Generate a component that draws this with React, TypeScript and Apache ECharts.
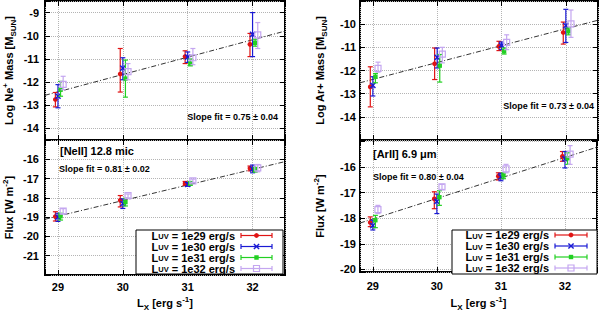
import React, { useEffect, useRef } from 'react';
import * as echarts from 'echarts';

// ---------------- data ----------------
const xTickValues = [29, 30, 31, 32];
const uvLabels = ['1e29', '1e30', '1e31', '1e32'];

const xUV29 = [28.96, 29.96, 30.96, 31.96];
const xUV30 = [29.0, 30.0, 31.0, 32.0];
const xUV31 = [29.04, 30.04, 31.04, 32.04];
const xUV32 = [29.08, 30.08, 31.08, 32.08];

// each entry: [value, low, high]
const neMassUV29 = [[-12.75, -13.07, -12.45], [-11.65, -12.43, -10.55], [-10.9, -11.2, -10.65], [-10.37, -10.9, -9.9]];
const neMassUV30 = [[-12.61, -13.11, -12.11], [-11.4, -11.9, -10.95], [-10.92, -11.15, -10.7], [-9.94, -10.9, -9.0]];
const neMassUV31 = [[-12.33, -12.61, -11.97], [-11.85, -12.65, -11.05], [-11.2, -11.3, -11.0], [-10.3, -10.45, -10.15]];
const neMassUV32 = [[-12.1, -12.33, -11.75], [-11.55, -11.9, -11.2], [-10.95, -11.25, -10.55], [-9.96, -10.55, -9.43]];

const neFluxUV29 = [[-18.97, -19.2, -18.72], [-18.13, -18.47, -17.88], [-17.25, -17.35, -17.15], [-16.47, -16.6, -16.35]];
const neFluxUV30 = [[-19.0, -19.22, -18.8], [-18.3, -18.55, -18.05], [-17.3, -17.4, -17.2], [-16.5, -16.7, -16.3]];
const neFluxUV31 = [[-18.95, -19.15, -18.8], [-18.22, -18.42, -18.02], [-17.25, -17.35, -17.15], [-16.54, -16.67, -16.42]];
const neFluxUV32 = [[-18.69, -18.82, -18.56], [-17.88, -18.0, -17.8], [-17.12, -17.2, -17.03], [-16.45, -16.65, -16.27]];

const arMassUV29 = [[-12.71, -13.57, -11.84], [-11.71, -12.39, -11.03], [-10.96, -11.14, -10.74], [-10.36, -10.86, -9.91]];
const arMassUV30 = [[-12.64, -13.1, -12.27], [-11.43, -11.89, -11.03], [-10.91, -11.1, -10.77], [-10.06, -10.79, -9.36]];
const arMassUV31 = [[-12.27, -12.53, -12.13], [-11.79, -12.5, -11.31], [-11.17, -11.29, -11.03], [-10.31, -10.46, -10.17]];
const arMassUV32 = [[-11.91, -12.07, -11.64], [-11.29, -11.67, -11.0], [-10.79, -11.1, -10.46], [-9.99, -10.57, -9.39]];

const arFluxUV29 = [[-18.17, -18.33, -17.95], [-17.25, -17.63, -16.97], [-16.36, -16.51, -16.23], [-15.59, -15.78, -15.4]];
const arFluxUV30 = [[-18.29, -18.46, -18.08], [-17.35, -17.82, -17.06], [-16.39, -16.54, -16.25], [-15.69, -16.04, -15.4]];
const arFluxUV31 = [[-18.08, -18.37, -17.89], [-17.18, -17.5, -16.93], [-16.33, -16.46, -16.23], [-15.66, -15.9, -15.45]];
const arFluxUV32 = [[-17.67, -17.82, -17.5], [-16.78, -16.88, -16.68], [-16.08, -16.23, -15.9], [-15.5, -15.9, -15.17]];

// fit line end points [x, y]
const neMassFit = [[28.8, -12.57], [32.5, -9.8]];
const neFluxFit = [[28.8, -19.11], [32.5, -16.12]];
const arMassFit = [[28.8, -12.53], [32.5, -9.83]];
const arFluxFit = [[28.8, -18.19], [32.5, -15.23]];

// tick labels
const neMassTicks = [-14, -13, -12, -11, -10, -9];
const neFluxTicks = [-21, -20, -19, -18, -17, -16];
const arMassTicks = [-14, -13, -12, -11, -10];
const arFluxTicks = [-20, -19, -18, -17, -16];

const slopeTexts = ['Slope fit = 0.75 ± 0.04', 'Slope fit = 0.81 ± 0.02', 'Slope fit = 0.73 ± 0.04', 'Slope fit = 0.80 ± 0.04'];
const lineLabels = ['[NeII] 12.8 mic', '[ArII] 6.9 μm'];

// ---------------- styles ----------------
const FONT = 'Liberation Sans, Arial, Helvetica, sans-serif';
const colors = ['#e01414', '#1a1ad4', '#22d022', '#c4a6f0'];
const markerKinds = ['circle', 'cross', 'square', 'openSquare'];
const xSets = [xUV29, xUV30, xUV31, xUV32];

const richStyles = {
  t: { fontSize: 11, fontWeight: 'bold', fontFamily: FONT, color: '#000', lineHeight: 16 },
  sup: { fontSize: 8, fontWeight: 'bold', fontFamily: FONT, color: '#000', lineHeight: 8, verticalAlign: 'top' },
  sub: { fontSize: 8, fontWeight: 'bold', fontFamily: FONT, color: '#000', lineHeight: 8, verticalAlign: 'bottom' },
};

function markerEl(kind: string, cx: number, cy: number, color: string, z?: number): any {
  const zz = z === undefined ? {} : { z };
  if (kind === 'circle') {
    return { type: 'circle', ...zz, shape: { cx, cy, r: 2.4 }, style: { fill: color } };
  }
  if (kind === 'cross') {
    const s = 2.6;
    return {
      type: 'group',
      children: [
        { type: 'line', ...zz, shape: { x1: cx - s, y1: cy - s, x2: cx + s, y2: cy + s }, style: { stroke: color, lineWidth: 1.4 } },
        { type: 'line', ...zz, shape: { x1: cx - s, y1: cy + s, x2: cx + s, y2: cy - s }, style: { stroke: color, lineWidth: 1.4 } },
      ],
    };
  }
  if (kind === 'square') {
    return { type: 'rect', ...zz, shape: { x: cx - 2.2, y: cy - 2.2, width: 4.4, height: 4.4 }, style: { fill: color } };
  }
  return { type: 'rect', ...zz, shape: { x: cx - 3, y: cy - 3, width: 6, height: 6 }, style: { fill: 'none', stroke: color, lineWidth: 1.2 } };
}

function makeRender(kind: string, color: string) {
  return (params: any, api: any) => {
    const x = api.value(0);
    const y = api.value(1);
    const c = api.coord([x, y]);
    const cl = api.coord([x, api.value(2)]);
    const ch = api.coord([x, api.value(3)]);
    const cap = 2.5;
    const ls = { stroke: color, lineWidth: 1.2 };
    return {
      type: 'group',
      children: [
        { type: 'line', shape: { x1: c[0], y1: cl[1], x2: c[0], y2: ch[1] }, style: ls },
        { type: 'line', shape: { x1: c[0] - cap, y1: cl[1], x2: c[0] + cap, y2: cl[1] }, style: ls },
        { type: 'line', shape: { x1: c[0] - cap, y1: ch[1], x2: c[0] + cap, y2: ch[1] }, style: ls },
        markerEl(kind, c[0], c[1], color),
      ],
    };
  };
}

const panels = [
  { grid: { left: 45, top: 1, width: 240, height: 139 }, yMin: -14.5, yMax: -8.5, ticks: neMassTicks, sets: [neMassUV29, neMassUV30, neMassUV31, neMassUV32], fit: neMassFit, showX: false,
    yName: '{t|Log Ne}{sup|+}{t| Mass [M}{sub|SUN}{t|]}', nameGap: 28 },
  { grid: { left: 45, top: 140, width: 240, height: 138 }, yMin: -22, yMax: -15, ticks: neFluxTicks, sets: [neFluxUV29, neFluxUV30, neFluxUV31, neFluxUV32], fit: neFluxFit, showX: true,
    yName: '{t|Flux [W m}{sup|-2}{t|]}', nameGap: 28, xGap: 20 },
  { grid: { left: 360, top: 1, width: 238, height: 139 }, yMin: -15, yMax: -9, ticks: arMassTicks, sets: [arMassUV29, arMassUV30, arMassUV31, arMassUV32], fit: arMassFit, showX: false,
    yName: '{t|Log Ar+ Mass [M}{sub|SUN}{t|]}', nameGap: 32 },
  { grid: { left: 360, top: 140, width: 238, height: 135 }, yMin: -20.1, yMax: -14.95, ticks: arFluxTicks, sets: [arFluxUV29, arFluxUV30, arFluxUV31, arFluxUV32], fit: arFluxFit, showX: true,
    yName: '{t|Flux [W m}{sup|-2}{t|]}', nameGap: 32, xGap: 23 },
];

function buildOption() {
  const grid: any[] = [];
  const xAxis: any[] = [];
  const yAxis: any[] = [];
  const series: any[] = [];
  const labelStyle = { color: '#000', fontSize: 11, fontWeight: 'bold', fontFamily: FONT };

  panels.forEach((p, i) => {
    grid.push({ ...p.grid, show: true, borderColor: '#000', borderWidth: 2, backgroundColor: '#fff', containLabel: false });
    xAxis.push({
      type: 'value', gridIndex: i, min: 28.8, max: 32.5, splitNumber: 4,
      axisLine: { show: false },
      axisTick: { show: true, inside: true, length: 5, lineStyle: { color: '#000', width: 1 } },
      axisLabel: {
        show: p.showX, margin: p.showX ? (i === 3 ? 8 : 6) : 0, ...labelStyle,
        formatter: (v: number) => (xTickValues.includes(v) ? String(v) : ''),
      },
      splitLine: { show: true, lineStyle: { color: '#b4b4b4', type: 'dotted', width: 1 } },
      name: p.showX ? '{t|L}{sub|X}{t| [erg s}{sup|-1}{t|]}' : '',
      nameLocation: 'middle', nameGap: p.xGap || 20,
      nameTextStyle: { ...labelStyle, rich: richStyles },
    });
    yAxis.push({
      type: 'value', gridIndex: i, min: p.yMin, max: p.yMax, splitNumber: Math.round(p.yMax - p.yMin),
      axisLine: { show: false },
      axisTick: { show: true, inside: true, length: 5, lineStyle: { color: '#000', width: 1 } },
      axisLabel: {
        margin: i < 2 ? 6 : 4, ...labelStyle,
        formatter: (v: number) => (p.ticks.includes(v) ? String(v) : ''),
      },
      splitLine: { show: true, lineStyle: { color: '#b4b4b4', type: 'dotted', width: 1 } },
      name: p.yName, nameLocation: 'middle', nameRotate: 90, nameGap: p.nameGap,
      nameTextStyle: { ...labelStyle, rich: richStyles },
    });
  });
  // secondary axes for ticks on top / right sides
  panels.forEach((p, i) => {
    xAxis.push({
      type: 'value', gridIndex: i, position: 'top', min: 28.8, max: 32.5, splitNumber: 4,
      axisLine: { show: false }, axisLabel: { show: false }, splitLine: { show: false },
      axisTick: { show: true, inside: true, length: 5, lineStyle: { color: '#000', width: 1 } },
    });
    yAxis.push({
      type: 'value', gridIndex: i, position: 'right', min: p.yMin, max: p.yMax, splitNumber: Math.round(p.yMax - p.yMin),
      axisLine: { show: false }, axisLabel: { show: false }, splitLine: { show: false },
      axisTick: { show: true, inside: true, length: 5, lineStyle: { color: '#000', width: 1 } },
    });
  });

  panels.forEach((p, i) => {
    series.push({
      type: 'line', xAxisIndex: i, yAxisIndex: i, data: p.fit, symbol: 'none', silent: true,
      lineStyle: { color: '#333', width: 1, type: [5, 2, 1, 2] }, z: 2,
    });
    p.sets.forEach((set, k) => {
      const xs = xSets[k];
      series.push({
        type: 'custom', name: 'L_UV = ' + uvLabels[k] + ' erg/s',
        xAxisIndex: i, yAxisIndex: i,
        dimensions: ['x', 'y', 'lo', 'hi'],
        encode: { x: 0, y: 1 },
        data: set.map((d, j) => [xs[j], d[0], d[1], d[2]]),
        renderItem: makeRender(markerKinds[k], colors[k]),
        z: 3,
      });
    });
  });

  const graphic: any[] = [];
  const txt = (x: number, y: number, text: string, align: string, size: number) => ({
    type: 'text', x, y, z: 10,
    style: { text, fill: '#000', fontSize: size, fontWeight: 'bold', fontFamily: FONT, align, textAlign: align, verticalAlign: 'middle', textVerticalAlign: 'middle' },
  });
  graphic.push(txt(278, 117, slopeTexts[0], 'right', 9));
  graphic.push(txt(59, 169, slopeTexts[1], 'left', 9));
  graphic.push(txt(594, 106, slopeTexts[2], 'right', 9));
  graphic.push(txt(373, 177, slopeTexts[3], 'left', 9));
  graphic.push(txt(60, 151, lineLabels[0], 'left', 11));
  graphic.push(txt(373, 154, lineLabels[1], 'left', 11));

  // legends
  const legends = [
    { box: [136, 230, 147, 44], rows: [235.5, 246.5, 257.5, 268.5], textRight: 235, s0: 241, s1: 272 },
    { box: [452, 230, 145, 44], rows: [235, 246, 257, 268], textRight: 549, s0: 555, s1: 587 },
  ];
  const legRich = {
    m: { fontSize: 11, fontWeight: 'bold', fontFamily: FONT, fill: '#000', color: '#000', lineHeight: 10 },
    s: { fontSize: 7.5, fontWeight: 'bold', fontFamily: FONT, fill: '#000', color: '#000', lineHeight: 1, verticalAlign: 'bottom' },
  };
  legends.forEach((lg) => {
    graphic.push({
      type: 'rect', z: 9, shape: { x: lg.box[0], y: lg.box[1], width: lg.box[2], height: lg.box[3] },
      style: { fill: '#fff', stroke: '#000', lineWidth: 1 },
    });
    lg.rows.forEach((ry, k) => {
      graphic.push({
        type: 'text', x: lg.textRight, y: ry, z: 10,
        style: {
          text: '{m|L}{s|UV}{m| = ' + uvLabels[k] + ' erg/s}', rich: legRich,
          align: 'right', textAlign: 'right', verticalAlign: 'middle', textVerticalAlign: 'middle', fill: '#000',
        },
      });
      const ls = { stroke: colors[k], lineWidth: 1.2 };
      graphic.push({ type: 'line', z: 10, shape: { x1: lg.s0, y1: ry, x2: lg.s1, y2: ry }, style: ls });
      graphic.push({ type: 'line', z: 10, shape: { x1: lg.s0, y1: ry - 2.5, x2: lg.s0, y2: ry + 2.5 }, style: ls });
      graphic.push({ type: 'line', z: 10, shape: { x1: lg.s1, y1: ry - 2.5, x2: lg.s1, y2: ry + 2.5 }, style: ls });
      const mk = markerEl(markerKinds[k], (lg.s0 + lg.s1) / 2, ry, colors[k], 11);
      if (mk.type === 'group') {
        mk.children.forEach((c: any) => graphic.push(c));
      } else {
        graphic.push(mk);
      }
    });
  });

  return {
    animation: false,
    backgroundColor: '#fff',
    textStyle: { fontFamily: FONT },
    grid, xAxis, yAxis, series, graphic,
  };
}

export default function App() {
  const ref = useRef<HTMLDivElement>(null);
  useEffect(() => {
    if (!ref.current) return;
    const chart = echarts.init(ref.current, undefined, { renderer: 'svg' });
    chart.setOption(buildOption() as any);
    return () => chart.dispose();
  }, []);
  return <div ref={ref} style={{ position: 'absolute', left: 0, top: 0, width: 600, height: 312 }} />;
}
